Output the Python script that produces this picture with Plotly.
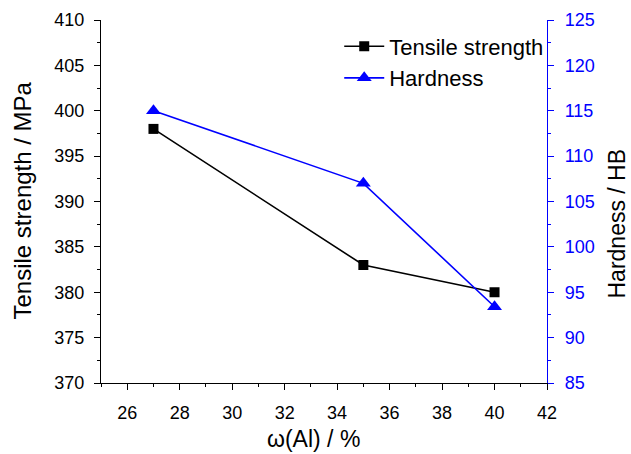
import plotly.graph_objects as go

al_content = [27, 35, 40]
tensile_strength = [398, 383, 380]
hardness = [115, 107, 93.4]

x_ticks = [26, 28, 30, 32, 34, 36, 38, 40, 42]
y1_ticks = [370, 375, 380, 385, 390, 395, 400, 405, 410]
y2_ticks = [85, 90, 95, 100, 105, 110, 115, 120, 125]

x_title = "ω(Al) / %"
y1_title = "Tensile strength / MPa"
y2_title = "Hardness / HB"

FONT = "Liberation Sans, Arial, sans-serif"
BLUE = "#0000ff"

fig = go.Figure()
fig.add_trace(go.Scatter(
    x=al_content, y=tensile_strength, name="Tensile strength",
    mode="lines+markers",
    line=dict(color="black", width=1.6),
    marker=dict(symbol="square", size=10, color="black"),
    yaxis="y",
))
fig.add_trace(go.Scatter(
    x=al_content, y=hardness, name="Hardness",
    mode="lines+markers",
    line=dict(color=BLUE, width=1.6),
    marker=dict(symbol="triangle-up", size=13, color=BLUE),
    yaxis="y2",
))

fig.update_layout(
    width=631, height=454,
    margin=dict(l=101, r=84, t=20, b=71),
    paper_bgcolor="white", plot_bgcolor="white",
    font=dict(family=FONT, size=18, color="black"),
    showlegend=True,
    legend=dict(
        x=1.005, y=0.985, xanchor="right", yanchor="top",
        bgcolor="rgba(0,0,0,0)", font=dict(size=22, family=FONT),
        itemwidth=40, tracegroupgap=0,
    ),
    xaxis=dict(
        range=[25, 42], tickvals=x_ticks, automargin=False,
        ticks="outside", ticklen=6, tickwidth=1.2, tickcolor="black",
        showline=True, linecolor="black", linewidth=1.2,
        showgrid=False, zeroline=False,
        minor=dict(dtick=1, ticks="outside", ticklen=3, tickwidth=1.2, tickcolor="black"),
        tickfont=dict(size=18, family=FONT),
        ticklabelstandoff=7,
    ),
    xaxis2=dict(
        range=[25, 42], tickvals=x_ticks, overlaying="x", side="top", anchor="y",
        automargin=False,
        ticks="inside", ticklen=6, tickwidth=1.2, tickcolor="black",
        showline=True, linecolor="black", linewidth=1.2,
        showgrid=False, zeroline=False, showticklabels=False,
        minor=dict(dtick=1, ticks="inside", ticklen=3, tickwidth=1.2, tickcolor="black"),
    ),
    yaxis=dict(
        range=[370, 410], tickvals=y1_ticks, automargin=False,
        ticks="outside", ticklen=6, tickwidth=1.2, tickcolor="black",
        showline=True, linecolor="black", linewidth=1.2,
        showgrid=False, zeroline=False,
        minor=dict(dtick=2.5, ticks="outside", ticklen=3, tickwidth=1.2, tickcolor="black"),
        tickfont=dict(size=18, family=FONT),
        ticklabelstandoff=6,
    ),
    yaxis2=dict(
        range=[85, 125], tickvals=y2_ticks, overlaying="y", side="right", anchor="x",
        automargin=False,
        ticks="outside", ticklen=6, tickwidth=1.2, tickcolor=BLUE,
        showline=True, linecolor=BLUE, linewidth=1.2,
        showgrid=False, zeroline=False,
        minor=dict(dtick=2.5, ticks="outside", ticklen=3, tickwidth=1.2, tickcolor=BLUE),
        tickfont=dict(size=18, family=FONT, color=BLUE),
        ticklabelstandoff=7,
    ),
    annotations=[
        dict(text=x_title, xref="paper", yref="paper", x=0.5, y=0,
             xanchor="center", yanchor="bottom", xshift=-11, yshift=-71,
             showarrow=False, font=dict(size=23, family=FONT, color="black")),
        dict(text=y1_title, xref="paper", yref="paper", x=0, y=0.5,
             xanchor="center", yanchor="middle", xshift=-79, yshift=1,
             textangle=-90, showarrow=False,
             font=dict(size=24, family=FONT, color="black")),
        dict(text=y2_title, xref="paper", yref="paper", x=1, y=0.5,
             xanchor="right", yanchor="middle", xshift=84, yshift=-22,
             textangle=-90, showarrow=False,
             font=dict(size=23, family=FONT, color="black")),
    ],
)

fig.write_html("out.html")
